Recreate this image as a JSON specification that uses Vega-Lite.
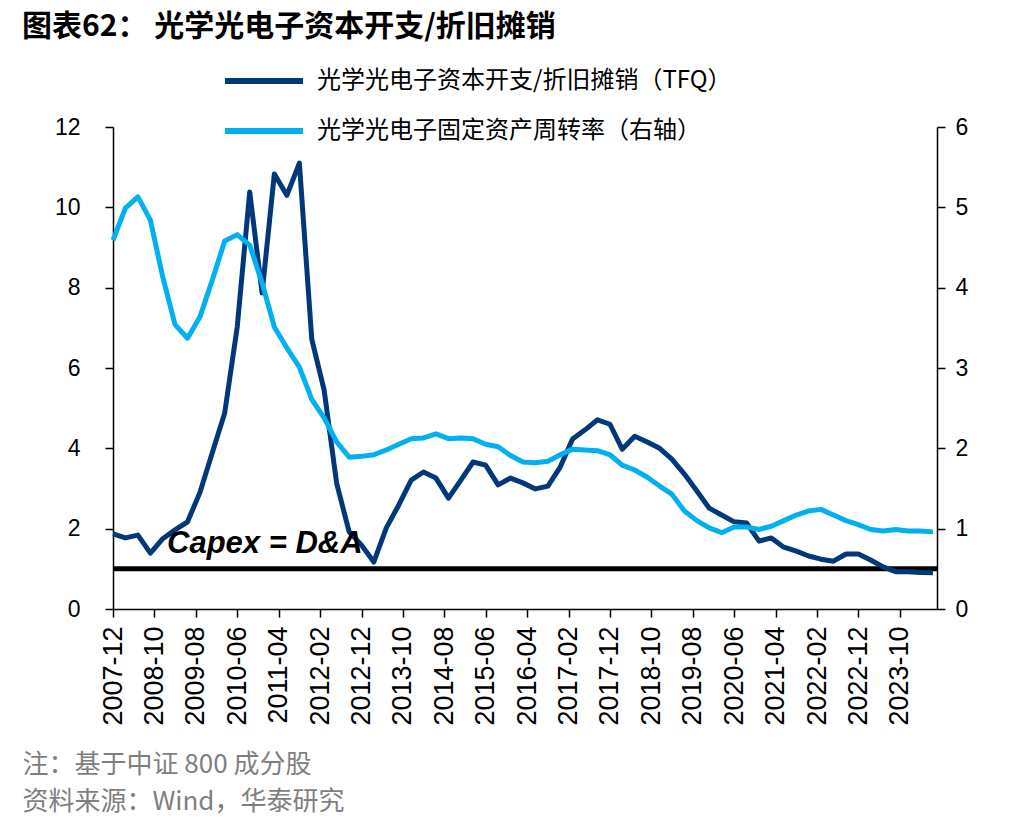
{
  "$schema": "https://vega.github.io/schema/vega-lite/v6.json",
  "width": 824,
  "height": 482,
  "autosize": {"type": "none"},
  "padding": {"left": 113, "top": 127, "right": 99, "bottom": 223},
  "background": "white",
  "config": {"view": {"stroke": null}, "font": "Liberation Sans"},
  "title": {
    "text": "图表62：   光学光电子资本开支/折旧摊销",
    "font": "Noto Sans CJK SC",
    "fontSize": 30,
    "fontWeight": "bold",
    "color": "#000000",
    "anchor": "start",
    "frame": "group",
    "dx": -91,
    "dy": 3,
    "offset": 0
  },
  "data": {
    "values": [
      {"date": "2007-12-01", "capex": 1.87, "turnover": 4.59},
      {"date": "2008-03-01", "capex": 1.77, "turnover": 4.99},
      {"date": "2008-06-01", "capex": 1.84, "turnover": 5.13},
      {"date": "2008-09-01", "capex": 1.39, "turnover": 4.84},
      {"date": "2008-12-01", "capex": 1.75, "turnover": 4.13},
      {"date": "2009-03-01", "capex": 1.97, "turnover": 3.54},
      {"date": "2009-06-01", "capex": 2.17, "turnover": 3.37},
      {"date": "2009-09-01", "capex": 2.91, "turnover": 3.64},
      {"date": "2009-12-01", "capex": 3.90, "turnover": 4.10},
      {"date": "2010-03-01", "capex": 4.88, "turnover": 4.58},
      {"date": "2010-06-01", "capex": 7.02, "turnover": 4.66},
      {"date": "2010-09-01", "capex": 10.38, "turnover": 4.53},
      {"date": "2010-12-01", "capex": 7.87, "turnover": 4.06},
      {"date": "2011-03-01", "capex": 10.83, "turnover": 3.51},
      {"date": "2011-06-01", "capex": 10.30, "turnover": 3.25},
      {"date": "2011-09-01", "capex": 11.10, "turnover": 3.01},
      {"date": "2011-12-01", "capex": 6.72, "turnover": 2.61},
      {"date": "2012-03-01", "capex": 5.45, "turnover": 2.38},
      {"date": "2012-06-01", "capex": 3.13, "turnover": 2.08},
      {"date": "2012-09-01", "capex": 1.92, "turnover": 1.89},
      {"date": "2012-12-01", "capex": 1.59, "turnover": 1.90},
      {"date": "2013-03-01", "capex": 1.17, "turnover": 1.92},
      {"date": "2013-06-01", "capex": 2.02, "turnover": 1.98},
      {"date": "2013-09-01", "capex": 2.59, "turnover": 2.05},
      {"date": "2013-12-01", "capex": 3.21, "turnover": 2.12},
      {"date": "2014-03-01", "capex": 3.41, "turnover": 2.13},
      {"date": "2014-06-01", "capex": 3.26, "turnover": 2.18},
      {"date": "2014-09-01", "capex": 2.76, "turnover": 2.12},
      {"date": "2014-12-01", "capex": 3.21, "turnover": 2.13},
      {"date": "2015-03-01", "capex": 3.66, "turnover": 2.12},
      {"date": "2015-06-01", "capex": 3.58, "turnover": 2.05},
      {"date": "2015-09-01", "capex": 3.09, "turnover": 2.02},
      {"date": "2015-12-01", "capex": 3.26, "turnover": 1.91},
      {"date": "2016-03-01", "capex": 3.14, "turnover": 1.83},
      {"date": "2016-06-01", "capex": 2.99, "turnover": 1.82},
      {"date": "2016-09-01", "capex": 3.06, "turnover": 1.84},
      {"date": "2016-12-01", "capex": 3.54, "turnover": 1.92},
      {"date": "2017-03-01", "capex": 4.23, "turnover": 1.99},
      {"date": "2017-06-01", "capex": 4.46, "turnover": 1.98},
      {"date": "2017-09-01", "capex": 4.71, "turnover": 1.97},
      {"date": "2017-12-01", "capex": 4.60, "turnover": 1.92},
      {"date": "2018-03-01", "capex": 3.98, "turnover": 1.79},
      {"date": "2018-06-01", "capex": 4.30, "turnover": 1.73},
      {"date": "2018-09-01", "capex": 4.16, "turnover": 1.64},
      {"date": "2018-12-01", "capex": 4.00, "turnover": 1.53},
      {"date": "2019-03-01", "capex": 3.73, "turnover": 1.43},
      {"date": "2019-06-01", "capex": 3.36, "turnover": 1.22},
      {"date": "2019-09-01", "capex": 2.94, "turnover": 1.10},
      {"date": "2019-12-01", "capex": 2.51, "turnover": 1.01},
      {"date": "2020-03-01", "capex": 2.34, "turnover": 0.95},
      {"date": "2020-06-01", "capex": 2.17, "turnover": 1.02},
      {"date": "2020-09-01", "capex": 2.14, "turnover": 1.02},
      {"date": "2020-12-01", "capex": 1.69, "turnover": 0.99},
      {"date": "2021-03-01", "capex": 1.77, "turnover": 1.03},
      {"date": "2021-06-01", "capex": 1.54, "turnover": 1.10},
      {"date": "2021-09-01", "capex": 1.44, "turnover": 1.17},
      {"date": "2021-12-01", "capex": 1.32, "turnover": 1.22},
      {"date": "2022-03-01", "capex": 1.24, "turnover": 1.24},
      {"date": "2022-06-01", "capex": 1.19, "turnover": 1.17},
      {"date": "2022-09-01", "capex": 1.37, "turnover": 1.10},
      {"date": "2022-12-01", "capex": 1.37, "turnover": 1.05},
      {"date": "2023-03-01", "capex": 1.22, "turnover": 0.99},
      {"date": "2023-06-01", "capex": 1.05, "turnover": 0.97},
      {"date": "2023-09-01", "capex": 0.93, "turnover": 0.99},
      {"date": "2023-12-01", "capex": 0.93, "turnover": 0.97},
      {"date": "2024-03-01", "capex": 0.91, "turnover": 0.97},
      {"date": "2024-06-01", "capex": 0.90, "turnover": 0.96}
    ]
  },
  "layer": [
    {
      "layer": [
        {
          "data": {"values": [{"v": 1}]},
          "mark": {"type": "rule", "color": "#000000", "strokeWidth": 5},
          "encoding": {
            "y": {"field": "v", "type": "quantitative"}
          }
        },
        {
          "mark": {"type": "line", "strokeWidth": 5, "strokeJoin": "round", "strokeCap": "butt"},
          "encoding": {
            "x": {
              "field": "date",
              "type": "temporal",
              "scale": {"type": "utc", "domain": [{"year": 2007, "month": 12, "date": 1, "utc": true}, {"year": 2024, "month": 7, "date": 1, "utc": true}]},
              "axis": {
                "values": [
                  {"year": 2007, "month": 12, "date": 1, "utc": true},
                  {"year": 2008, "month": 10, "date": 1, "utc": true},
                  {"year": 2009, "month": 8, "date": 1, "utc": true},
                  {"year": 2010, "month": 6, "date": 1, "utc": true},
                  {"year": 2011, "month": 4, "date": 1, "utc": true},
                  {"year": 2012, "month": 2, "date": 1, "utc": true},
                  {"year": 2012, "month": 12, "date": 1, "utc": true},
                  {"year": 2013, "month": 10, "date": 1, "utc": true},
                  {"year": 2014, "month": 8, "date": 1, "utc": true},
                  {"year": 2015, "month": 6, "date": 1, "utc": true},
                  {"year": 2016, "month": 4, "date": 1, "utc": true},
                  {"year": 2017, "month": 2, "date": 1, "utc": true},
                  {"year": 2017, "month": 12, "date": 1, "utc": true},
                  {"year": 2018, "month": 10, "date": 1, "utc": true},
                  {"year": 2019, "month": 8, "date": 1, "utc": true},
                  {"year": 2020, "month": 6, "date": 1, "utc": true},
                  {"year": 2021, "month": 4, "date": 1, "utc": true},
                  {"year": 2022, "month": 2, "date": 1, "utc": true},
                  {"year": 2022, "month": 12, "date": 1, "utc": true},
                  {"year": 2023, "month": 10, "date": 1, "utc": true}
                ],
                "labelExpr": "utcFormat(datum.value, '%Y-%m')",
                "labelAngle": -90,
                "labelFont": "Liberation Sans",
                "labelFontSize": 27,
                "labelColor": "#000000",
                "labelPadding": 9,
                "labelOverlap": false,
                "labelFlush": false,
                "tickSize": 8,
                "tickColor": "#000000",
                "tickWidth": 1.5,
                "domainColor": "#000000",
                "domainWidth": 1.5,
                "grid": false,
                "title": ["注：基于中证 800 成分股", "资料来源：Wind，华泰研究"],
                "titleFont": "Noto Sans CJK SC",
                "titleFontSize": 26,
                "titleFontWeight": "normal",
                "titleColor": "#7f7f7f",
                "titleAnchor": "start",
                "titleAlign": "left",
                "titleBaseline": "top",
                "titleAngle": 0,
                "titleX": -91,
                "titleY": 142,
                "titleLineHeight": 37
              }
            },
            "y": {
              "field": "capex",
              "type": "quantitative",
              "scale": {"domain": [0, 12], "nice": false},
              "axis": {
                "orient": "left",
                "values": [0, 2, 4, 6, 8, 10, 12],
                "title": null,
                "grid": false,
                "labelFont": "Liberation Sans",
                "labelFontSize": 23,
                "labelColor": "#000000",
                "labelPadding": 25,
                "tickSize": 8,
                "tickColor": "#000000",
                "tickWidth": 1.5,
                "domainColor": "#000000",
                "domainWidth": 1.5
              }
            },
            "color": {
              "datum": "光学光电子资本开支/折旧摊销（TFQ）",
              "type": "nominal",
              "scale": {"domain": ["光学光电子资本开支/折旧摊销（TFQ）"], "range": ["#00387A"]},
              "legend": {
                "orient": "none",
                "legendX": 109,
                "legendY": -88,
                "title": null,
                "padding": 0,
                "symbolType": "stroke",
                "symbolSize": 6084,
                "symbolStrokeWidth": 6,
                "labelFont": "Noto Sans CJK SC",
                "labelFontSize": 24,
                "labelColor": "#000000",
                "labelOffset": 11,
                "labelLimit": 800
              }
            }
          }
        },
        {
          "data": {"values": [{"d": "2009-01-01", "v": 1.39, "t": "Capex = D&A"}]},
          "mark": {"type": "text", "align": "left", "baseline": "alphabetic", "fontSize": 31, "fontWeight": "bold", "fontStyle": "italic", "font": "Liberation Sans", "color": "#000000"},
          "encoding": {
            "x": {"field": "d", "type": "temporal"},
            "y": {"field": "v", "type": "quantitative"},
            "text": {"field": "t"}
          }
        }
      ]
    },
    {
      "mark": {"type": "line", "strokeWidth": 5, "strokeJoin": "round", "strokeCap": "butt"},
      "encoding": {
        "x": {"field": "date", "type": "temporal"},
        "y": {
          "field": "turnover",
          "type": "quantitative",
          "scale": {"domain": [0, 6], "nice": false},
          "axis": {
            "orient": "right",
            "values": [0, 1, 2, 3, 4, 5, 6],
            "title": null,
            "grid": false,
            "labelFont": "Liberation Sans",
            "labelFontSize": 23,
            "labelColor": "#000000",
            "labelPadding": 10,
            "tickSize": 8,
            "tickColor": "#000000",
            "tickWidth": 1.5,
            "domainColor": "#000000",
            "domainWidth": 1.5
          }
        },
        "color": {
          "datum": "光学光电子固定资产周转率（右轴）",
          "type": "nominal",
          "scale": {"domain": ["光学光电子固定资产周转率（右轴）"], "range": ["#00B0F0"]},
          "legend": {
            "orient": "none",
            "legendX": 109,
            "legendY": -38,
            "title": null,
            "padding": 0,
            "symbolType": "stroke",
            "symbolSize": 6084,
            "symbolStrokeWidth": 6,
            "labelFont": "Noto Sans CJK SC",
            "labelFontSize": 24,
            "labelColor": "#000000",
            "labelOffset": 11,
            "labelLimit": 800
          }
        }
      }
    }
  ],
  "resolve": {"scale": {"y": "independent", "color": "independent"}}
}
